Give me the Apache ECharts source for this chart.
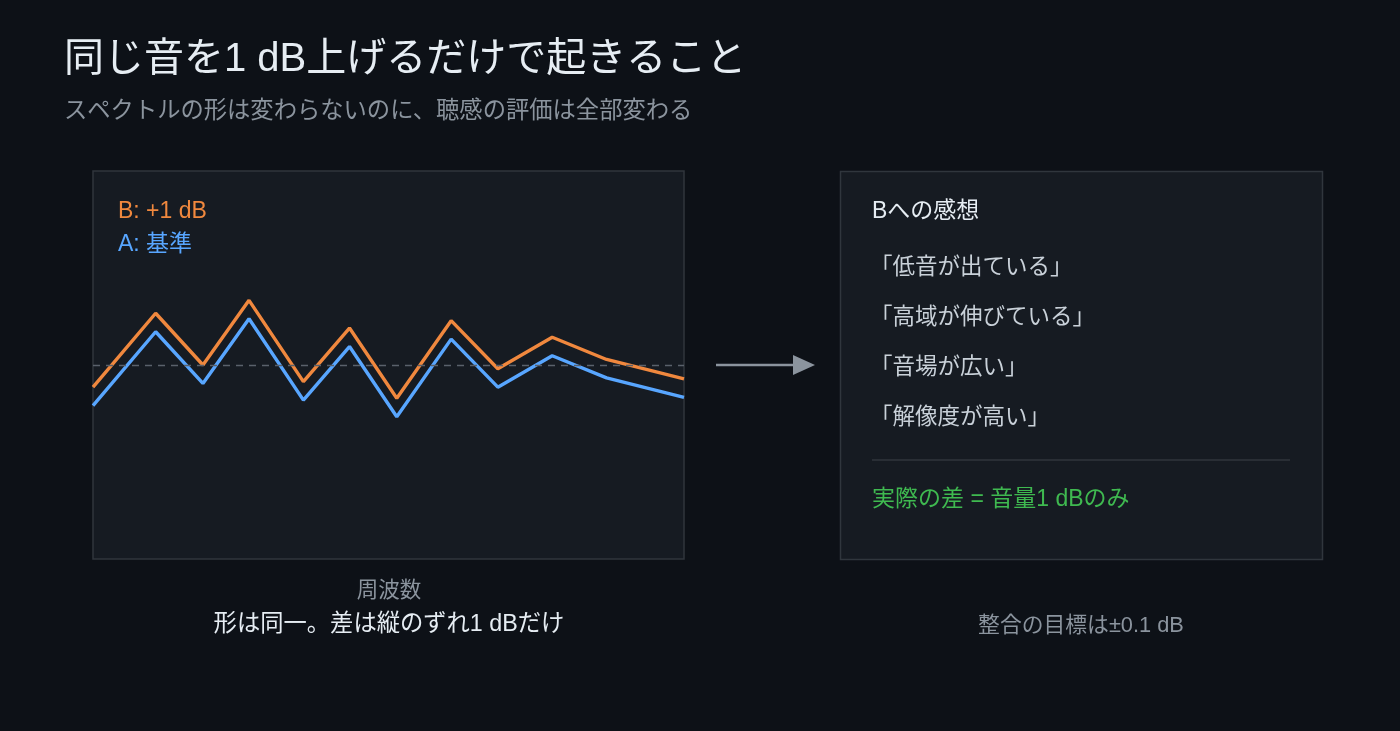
<!DOCTYPE html>
<html><head><meta charset="utf-8">
<script src="https://cdn.jsdelivr.net/npm/echarts@6/dist/echarts.min.js"></script>
<style>html,body{margin:0;padding:0;background:#0d1117;}#c{width:1400px;height:731px;}</style>
</head><body><div id="c"></div>
<script>
// ---- data ----
const titleText = '同じ音を1 dB上げるだけで起きること';
const subtitleText = 'スペクトルの形は変わらないのに、聴感の評価は全部変わる';
const freqPos = [0, 10.6, 18.6, 26.4, 35.6, 43.4, 51.4, 60.6, 68.5, 77.7, 86.9, 100];
const levelA = [-2.2, 1.8, -1.0, 2.5, -1.9, 1.0, -2.8, 1.4, -1.2, 0.5, -0.7, -1.75];
const levelB = [-1.2, 2.8, 0.0, 3.5, -0.9, 2.0, -1.8, 2.4, -0.2, 1.5, 0.3, -0.75];
const seriesNames = ['B: +1 dB', 'A: 基準'];
const xAxisName = '周波数';
const leftCaption = '形は同一。差は縦のずれ1 dBだけ';
const panelHeading = 'Bへの感想';
const impressions = ['「低音が出ている」', '「高域が伸びている」', '「音場が広い」', '「解像度が高い」'];
const realityText = '実際の差 = 音量1 dBのみ';
const rightCaption = '整合の目標は±0.1 dB';

const FONT = "'Liberation Sans', 'Noto Sans CJK JP', sans-serif";
const C = { bg:'#0d1117', panel:'#161b22', border:'#30363d', orange:'#f0883e', blue:'#58a6ff',
  green:'#3fb950', title:'#e6edf3', muted:'#8b949e', text:'#c9d1d9' };

const chart = echarts.init(document.getElementById('c'), null, {renderer:'canvas'});

function txt(text, x, y, size, color, align) {
  return { type:'text', z:10, style:{ text, x, y, fill:color, fontSize:size, fontFamily:FONT,
    align: align || 'left', verticalAlign:'middle' } };
}

const graphics = [
  txt(titleText, 64, 60, 40, C.title),
  txt(subtitleText, 64, 112, 23.3, C.muted),
  txt(seriesNames[0], 118, 212, 23, C.orange),
  txt(seriesNames[1], 118, 245, 23, C.blue),
  txt(xAxisName, 389, 591, 21.5, C.muted, 'center'),
  txt(leftCaption, 389, 625, 23.3, C.title, 'center'),
  { type:'line', shape:{x1:716, y1:365, x2:796, y2:365}, style:{stroke:C.muted, lineWidth:2.5} },
  { type:'polygon', shape:{points:[[793,355],[815,365],[793,375]]}, style:{fill:C.muted} },
  { type:'rect', z:1, shape:{x:840.5, y:171.5, width:482, height:388}, style:{fill:C.panel, stroke:C.border, lineWidth:1.5} },
  txt(panelHeading, 872, 212, 23, C.title),
  { type:'line', z:5, shape:{x1:872, y1:460, x2:1290, y2:460}, style:{stroke:C.border, lineWidth:1.5} },
  txt(realityText, 872, 500, 23, C.green),
  txt(rightCaption, 1081, 626, 21.8, C.muted, 'center')
];
impressions.forEach((s, i) => graphics.push(txt(s, 870, 268 + i * 50, 22.5, C.text)));

chart.setOption({
  backgroundColor: C.bg,
  animation: false,
  grid: { left:93, top:171, width:591, height:388, show:true, backgroundColor:C.panel, borderColor:C.border, borderWidth:1.5 },
  xAxis: { type:'value', min:0, max:100, show:false },
  yAxis: { type:'value', min:-10.5, max:10.5, show:false },
  graphic: graphics,
  series: [
    { name:seriesNames[1], type:'line', data:freqPos.map((x,i)=>[x, levelA[i]]), symbol:'none',
      lineStyle:{color:C.blue, width:3.4}, itemStyle:{color:C.blue}, z:3,
      markLine:{ silent:true, symbol:'none', label:{show:false},
        lineStyle:{color:'#5a616b', type:[7,6], width:1.3}, data:[{yAxis:0}] } },
    { name:seriesNames[0], type:'line', data:freqPos.map((x,i)=>[x, levelB[i]]), symbol:'none',
      lineStyle:{color:C.orange, width:3.4}, itemStyle:{color:C.orange}, z:4 }
  ]
});
</script></body></html>
